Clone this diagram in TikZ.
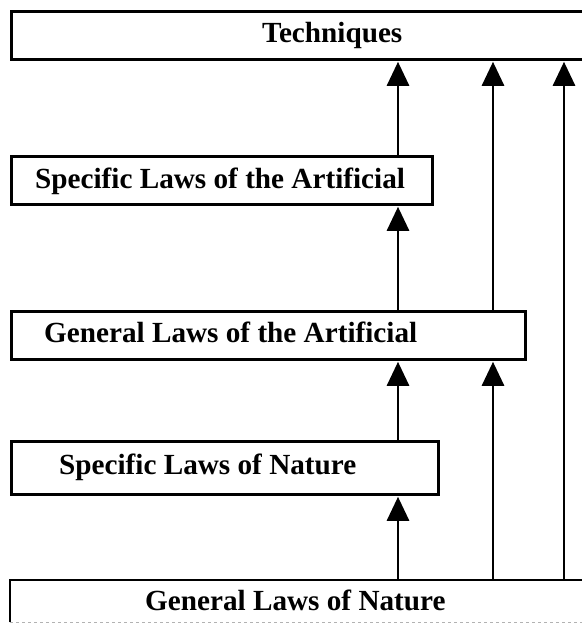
\documentclass[tikz,border=0pt]{standalone}
\usepackage{fontspec}
\setmainfont{Liberation Serif}
\usetikzlibrary{arrows.meta}

\tikzset{
  box/.style={draw, line width=2.8pt, anchor=north west, inner sep=0pt},
  lbl/.style={anchor=base west, inner sep=0pt,
    font=\fontsize{29.2}{35}\selectfont\bfseries},
  arr/.style={line width=2.8pt, -{Triangle[length=24pt, width=22pt]}, shorten >=1pt}
}

\begin{document}
\begin{tikzpicture}[x=1pt, y=-1pt]

      \useasboundingbox (0,0) rectangle (581,626);

      \node [box, minimum width=650, minimum height=48] (tech) at (10,10) {};
      \node [lbl] (tech-t) at (262,43) {Techniques};

      \node [box, minimum width=421, minimum height=48] (sa) at (10,155) {};
      \node [lbl] (sa-t) at (35,188) {Specific Laws of the Artificial};

      \node [box, minimum width=514, minimum height=48] (ga) at (10,310) {};
      \node [lbl] (ga-t) at (44,342) {General Laws of the Artificial};

      \node [box, minimum width=427, minimum height=53] (sn) at (10,440) {};
      \node [lbl] (sn-t) at (59,474) {Specific Laws of Nature};

      \node [anchor=north west, inner sep=0pt, minimum width=650,
             minimum height=42] (gn) at (10,580) {};
      \draw [line width=2.8pt] (gn.south west) -- (gn.north west) -- (gn.north east);
      \draw [line width=1.5pt, gray!60, dashed] (gn.south west) -- (gn.south east);
      \node [lbl] (gn-t) at (145,610) {General Laws of Nature};


      \coordinate (c1) at (398,0);
      \coordinate (c2) at (493,0);
      \coordinate (c3) at (564,0);

      \draw [arr] (gn.north -| c1) -- (sn.south -| c1);
      \draw [arr] (sn.north -| c1) -- (ga.south -| c1);
      \draw [arr] (ga.north -| c1) -- (sa.south -| c1);
      \draw [arr] (sa.north -| c1) -- (tech.south -| c1);

      \draw [arr] (gn.north -| c2) -- (ga.south -| c2);
      \draw [arr] (ga.north -| c2) -- (tech.south -| c2);

      \draw [arr] (gn.north -| c3) -- (tech.south -| c3);

    \end{tikzpicture}
\end{document}
